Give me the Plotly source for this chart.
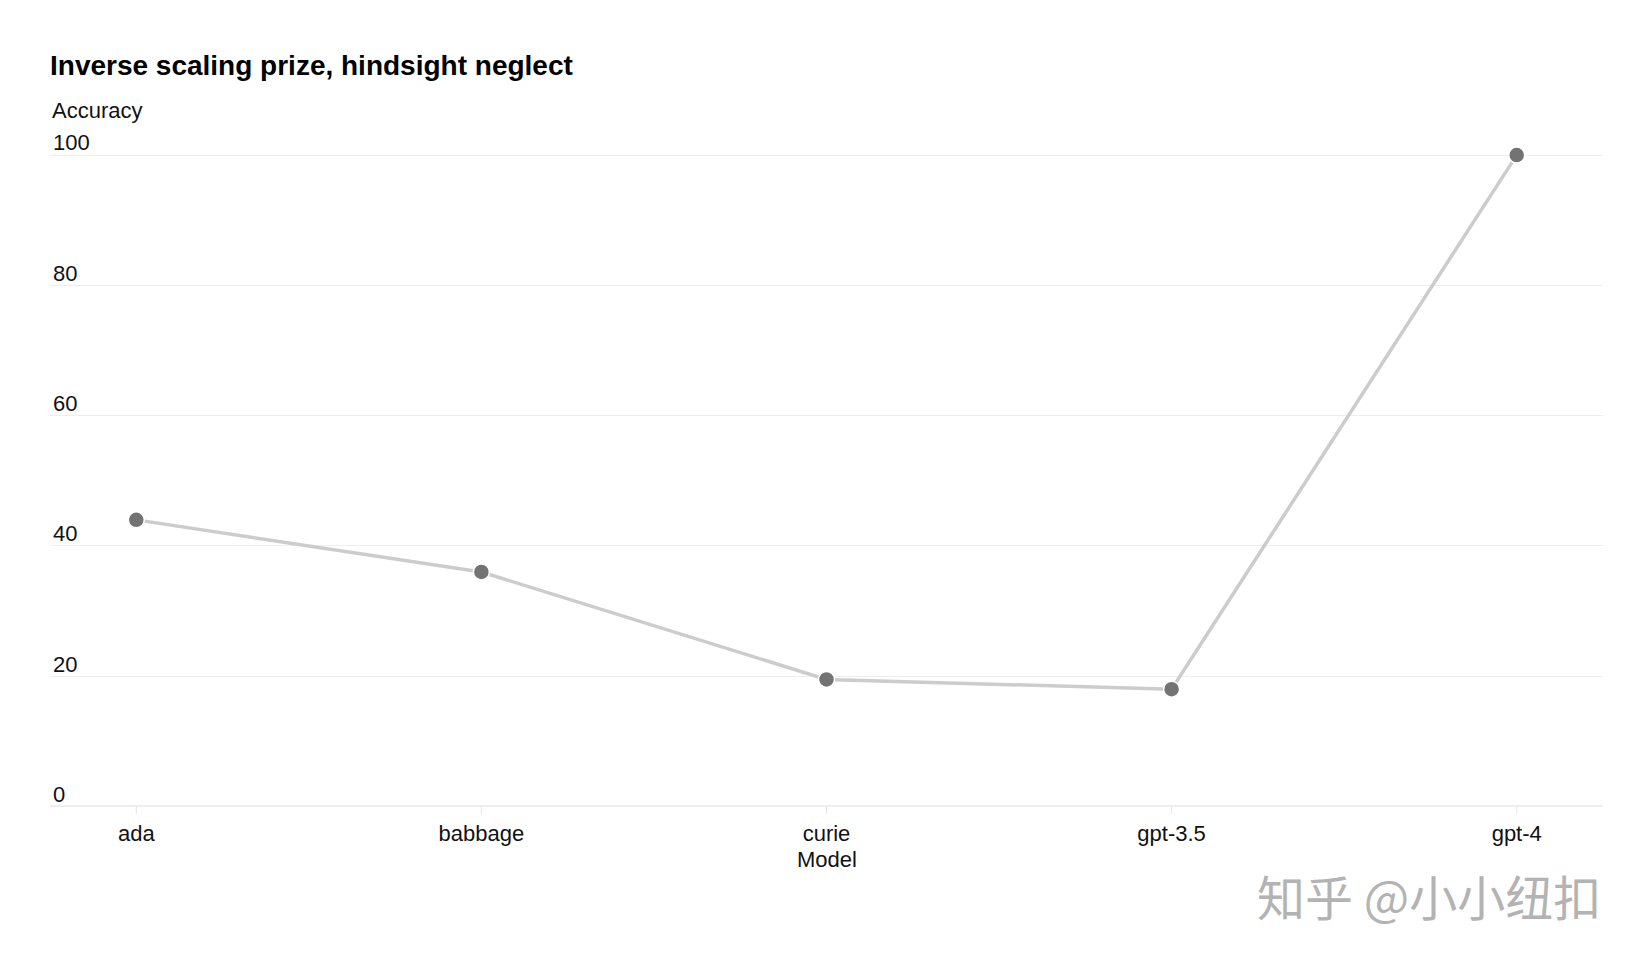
import plotly.graph_objects as go

models = ["ada", "babbage", "curie", "gpt-3.5", "gpt-4"]
accuracy = [44, 36, 19.5, 18, 100]
y_ticks = [0, 20, 40, 60, 80, 100]

font_family = "Liberation Sans, Arial, sans-serif"

# plot area rows in px (page body adds 8px offset)
plot_bottom = 805
plot_h = 697


def paper_y(px):
    return (plot_bottom - px) / plot_h


fig = go.Figure()
fig.add_trace(go.Scatter(
    x=models, y=accuracy,
    mode="lines+markers",
    line=dict(color="#cccccc", width=3.5),
    marker=dict(size=16, color="#737373", line=dict(color="white", width=1.5)),
    cliponaxis=False,
    showlegend=False,
))

# small category ticks hanging from the zero line
for m in models:
    fig.add_shape(type="line", xref="x", yref="paper", x0=m, x1=m,
                  y0=paper_y(798), y1=paper_y(806),
                  line=dict(color="#e6e6e6", width=1))

fig.update_layout(
    width=1646, height=960,
    paper_bgcolor="white", plot_bgcolor="white",
    margin=dict(l=42, r=51, t=108, b=960 - plot_bottom),
    font=dict(family=font_family, size=22, color="#111111"),
    title=dict(text="<b>Inverse scaling prize, hindsight neglect</b>",
               x=42 / 1646, xanchor="left", y=1 - 57 / 960, yanchor="middle",
               font=dict(size=28, color="#000000")),
    annotations=[
        dict(text="Accuracy", xref="paper", yref="paper", x=0, y=paper_y(102),
             xanchor="left", yanchor="middle", showarrow=False,
             font=dict(size=22, color="#111111")),
        dict(text="Model", xref="paper", yref="paper", x=0.5, y=paper_y(851),
             xanchor="center", yanchor="middle", showarrow=False,
             font=dict(size=22, color="#111111")),
        dict(text="知乎 @小小纽扣", xref="paper", yref="paper", x=1, y=paper_y(887),
             xanchor="right", yanchor="middle", showarrow=False,
             font=dict(family="Noto Sans CJK SC", size=48, color="#b3b3b3")),
    ],
)

fig.update_xaxes(
    range=[-0.25, 4.25],
    showgrid=False, showline=False, zeroline=False,
    ticks="outside", ticklen=1, tickcolor="rgba(0,0,0,0)",
    tickfont=dict(size=22, color="#111111"),
)
fig.update_yaxes(
    range=[-1, 106],
    tickvals=y_ticks,
    showgrid=True, gridcolor="#eeeeee", gridwidth=1,
    zeroline=True, zerolinecolor="#eeeeee", zerolinewidth=2,
    showline=False,
    ticklabelposition="inside top",
    ticklabelshift=3,
    tickfont=dict(size=22, color="#111111"),
)

fig.write_html("out.html")
